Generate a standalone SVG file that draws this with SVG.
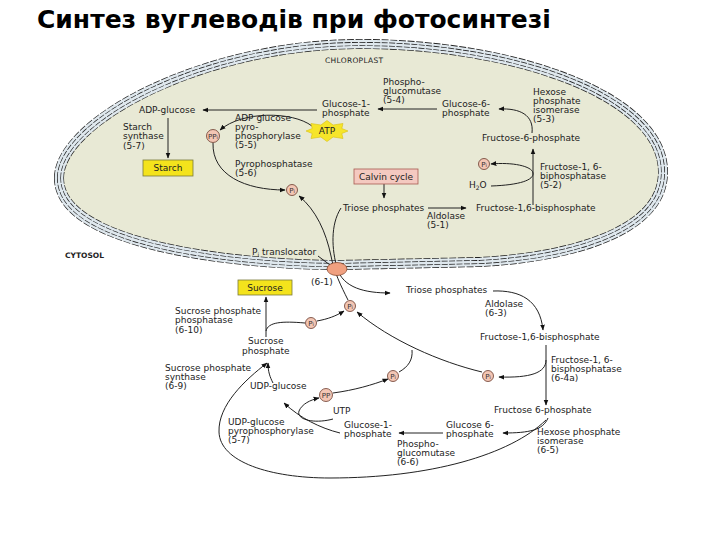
<svg xmlns="http://www.w3.org/2000/svg" width="720" height="540" viewBox="0 0 720 540">
<style>
text{font-family:"DejaVu Sans","Liberation Sans",sans-serif;font-size:9px;fill:#222}
.title{font-family:"DejaVu Sans","Liberation Sans",sans-serif;font-size:25px;font-weight:bold;fill:#000}
.small{font-size:7.5px}
.c{stroke:#222;stroke-width:1;fill:none}
.ca{stroke:#222;stroke-width:1;fill:none;marker-end:url(#ah)}
.pi{fill:#f3c6b4;stroke:#6a3a2c;stroke-width:0.8}
.pit{font-size:7px;text-anchor:middle;fill:#333}
.yel{fill:#f4e31c;stroke:#7a7a3a;stroke-width:0.8}
.mem-d1{fill:none;stroke:#222;stroke-width:10;stroke-dasharray:7 1.6}
.mem-l1{fill:none;stroke:#dfe8ee;stroke-width:8.6}
.mem-d2{fill:none;stroke:#222;stroke-width:4;stroke-dasharray:6 1.4}
.mem-l2{fill:none;stroke:#dfe8ee;stroke-width:2.6}
</style>
<defs>
<marker id="ah" viewBox="0 0 10 10" refX="9" refY="5" markerWidth="6" markerHeight="6" orient="auto" markerUnits="userSpaceOnUse"><path d="M0,1 L10,5 L0,9 z" fill="#111"/></marker>
<path id="chl" d="M 59,178 C 59,122 202,44 360,44 C 518,44 663,97 663,172 C 663,236 558,258 480,262 L 340,265 C 242,265 59,247 59,178 Z"/>
</defs>
<rect width="720" height="540" fill="#fff"/>
<text class="title" x="37" y="28">Синтез вуглеводів при фотосинтезі</text>

<g id="chloroplast">
<use href="#chl" fill="#e8e9d5"/>
<use href="#chl" class="mem-d1"/>
<use href="#chl" class="mem-l1"/>
<use href="#chl" class="mem-d2"/>
<use href="#chl" class="mem-l2"/>
<text class="small" x="325" y="63" letter-spacing="0.3">CHLOROPLAST</text>
</g>
<text id="cytosol" class="small" x="65" y="258" font-weight="bold">CYTOSOL</text>

<g id="connectors">
<path class="ca" d="M 317,110 L 203,110"/>
<path class="ca" d="M 168,118 L 168,158"/>
<path class="ca" d="M 312,126 C 292,111 242,111 220,130"/>
<path class="ca" d="M 213,143 C 212,175 245,190 285,190"/>
<path class="ca" d="M 437,109 L 378,109"/>
<path class="ca" d="M 532,133 C 534,115 520,108 499,109"/>
<path class="ca" d="M 533,205 L 533,149"/>
<path class="ca" d="M 491,186 C 520,185 534,180 533,173 C 532,166 512,162 491,164"/>
<path class="ca" d="M 384,184 L 384,198"/>
<path class="ca" d="M 428,208 L 466,208"/>
<path class="ca" d="M 341,208 C 330,225 332,250 337,268 C 343,288 365,293 390,293"/>
<path class="ca" d="M 348,300 C 341,286 334,272 331,256 C 326,232 316,210 299,196"/>
<path class="c" d="M 318,256 L 330,265"/>
<path class="ca" d="M 493,291 C 520,290 540,300 543,330"/>
<path class="ca" d="M 546,345 L 546,405"/>
<path class="ca" d="M 546,360 C 546,373 530,378 499,377"/>
<path class="ca" d="M 482,372 C 440,362 390,340 357,312"/>
<path class="c" d="M 399,372 C 408,367 413,360 412,350"/>
<path class="ca" d="M 548,418 C 543,430 530,433 503,433"/>
<path class="ca" d="M 546,420 C 510,455 430,478 330,478 C 270,478 220,462 219,432 C 218,405 245,380 267,363"/>
<path class="ca" d="M 266,337 L 266,297"/>
<path class="c" d="M 266,331 C 268,322 282,321 305,323"/>
<path class="ca" d="M 317,321 C 328,319 336,316 344,311"/>
<path class="ca" d="M 273,383 C 270,377 268,372 268,363"/>
<path class="ca" d="M 333,393 C 355,390 372,385 388,379"/>
<path class="ca" d="M 333,419 C 315,424 296,420 299,411 C 302,404 310,400 319,398"/>
<path class="ca" d="M 340,433 C 320,428 300,418 284,403"/>
<path class="ca" d="M 443,433 L 399,433"/>
</g>

<g id="adp-glucose"><text x="139" y="113">ADP-glucose</text></g>
<g id="starch-synthase"><text x="123" y="130">Starch</text><text x="123" y="139">synthase</text><text x="123" y="149">(5-7)</text></g>
<g id="starch"><rect class="yel" x="143" y="160" width="50" height="16"/><text x="168" y="171" text-anchor="middle">Starch</text></g>
<g id="adp-ppase"><text x="235" y="121">ADP glucose</text><text x="235" y="130">pyro-</text><text x="235" y="139">phosphorylase</text><text x="235" y="148">(5-5)</text></g>
<g id="ppi-chl"><circle class="pi" cx="213" cy="136" r="6.5"/><text class="pit" x="213" y="138.5" font-size="6.5">PP<tspan font-size="5">i</tspan></text></g>
<g id="atp"><polygon points="348,131 341.8,133.5 343,138.5 333.1,137 327,141.5 320.9,137 311,138.5 312.2,133.5 306,131 312.2,128.5 311,123.5 320.9,125 327,120.5 333.1,125 343,123.5 341.8,128.5" fill="#f6e52a" stroke="#d8c010" stroke-width="0.6"/><text x="327" y="134" text-anchor="middle" font-size="8">ATP</text></g>
<g id="pyrophosphatase"><text x="235" y="167">Pyrophosphatase</text><text x="235" y="176">(5-6)</text></g>
<g id="pi-chl-1"><circle class="pi" cx="292" cy="190" r="5.5"/><text class="pit" x="292" y="192.5">P<tspan font-size="5">i</tspan></text></g>
<g id="glc1p-chl"><text x="322" y="107">Glucose-1-</text><text x="322" y="116">phosphate</text></g>
<g id="pgm-chl"><text x="383" y="85">Phospho-</text><text x="383" y="94">glucomutase</text><text x="383" y="103">(5-4)</text></g>
<g id="glc6p-chl"><text x="442" y="107">Glucose-6-</text><text x="442" y="116">phosphate</text></g>
<g id="hpi-chl"><text x="533" y="95">Hexose</text><text x="533" y="104">phosphate</text><text x="533" y="113">isomerase</text><text x="533" y="122">(5-3)</text></g>
<g id="f6p-chl"><text x="482" y="141">Fructose-6-phosphate</text></g>
<g id="fbpase-chl"><text x="540" y="170">Fructose-1, 6-</text><text x="540" y="179">biphosphatase</text><text x="540" y="188">(5-2)</text></g>
<g id="pi-chl-2"><circle class="pi" cx="484" cy="164" r="5.5"/><text class="pit" x="484" y="166.5">P<tspan font-size="5">i</tspan></text></g>
<g id="h2o"><text x="469" y="188">H<tspan font-size="6" dy="2">2</tspan><tspan dy="-2">O</tspan></text></g>
<g id="calvin"><rect x="354" y="169" width="64" height="15" fill="#f4c9c0" stroke="#a85a50" stroke-width="0.8"/><text x="386" y="179.5" text-anchor="middle" fill="#9a3a30" font-size="8.5">Calvin cycle</text></g>
<g id="triose-chl"><text x="343" y="211">Triose phosphates</text></g>
<g id="aldolase-chl"><text x="427" y="219">Aldolase</text><text x="427" y="228">(5-1)</text></g>
<g id="fbp-chl"><text x="476" y="211">Fructose-1,6-bisphosphate</text></g>

<g id="translocator"><ellipse cx="337" cy="269" rx="10" ry="6.5" fill="#f0a080" stroke="#8a4a30" stroke-width="0.8"/><text x="252" y="255">P<tspan font-size="6" dy="2">i</tspan><tspan dy="-2"> translocator</tspan></text><text x="311" y="285">(6-1)</text></g>

<g id="sucrose"><rect class="yel" x="238" y="280" width="54" height="15"/><text x="265" y="290.5" text-anchor="middle">Sucrose</text></g>
<g id="pi-cyt-1"><circle class="pi" cx="350" cy="306" r="5.5"/><text class="pit" x="350" y="308.5">P<tspan font-size="5">i</tspan></text></g>
<g id="triose-cyt"><text x="406" y="293">Triose phosphates</text></g>
<g id="aldolase-cyt"><text x="485" y="307">Aldolase</text><text x="485" y="316">(6-3)</text></g>
<g id="fbp-cyt"><text x="480" y="340">Fructose-1,6-bisphosphate</text></g>
<g id="fbpase-cyt"><text x="551" y="363">Fructose-1, 6-</text><text x="551" y="372">bisphosphatase</text><text x="551" y="381">(6-4a)</text></g>
<g id="pi-cyt-2"><circle class="pi" cx="488" cy="376" r="5.5"/><text class="pit" x="488" y="378.5">P<tspan font-size="5">i</tspan></text></g>
<g id="pi-cyt-3"><circle class="pi" cx="393" cy="376" r="5.5"/><text class="pit" x="393" y="378.5">P<tspan font-size="5">i</tspan></text></g>
<g id="f6p-cyt"><text x="494" y="413">Fructose 6-phosphate</text></g>
<g id="hpi-cyt"><text x="537" y="435">Hexose phosphate</text><text x="537" y="444">isomerase</text><text x="537" y="453">(6-5)</text></g>
<g id="glc6p-cyt"><text x="446" y="428">Glucose 6-</text><text x="446" y="437">phosphate</text></g>
<g id="pgm-cyt"><text x="397" y="447">Phospho-</text><text x="397" y="456">glucomutase</text><text x="397" y="465">(6-6)</text></g>
<g id="glc1p-cyt"><text x="344" y="428">Glucose-1-</text><text x="344" y="437">phosphate</text></g>
<g id="ugpase"><text x="228" y="425">UDP-glucose</text><text x="228" y="434">pyrophosphorylase</text><text x="228" y="443">(5-7)</text></g>
<g id="utp"><text x="333" y="414">UTP</text></g>
<g id="pp-cyt"><circle class="pi" cx="326" cy="395" r="6.5"/><text class="pit" x="326" y="397.5" font-size="6.5">PP</text></g>
<g id="udp-glucose"><text x="250" y="389">UDP-glucose</text></g>
<g id="sps"><text x="165" y="371">Sucrose phosphate</text><text x="165" y="380">synthase</text><text x="165" y="389">(6-9)</text></g>
<g id="sucrose-p"><text x="248" y="344">Sucrose</text><text x="242" y="354">phosphate</text></g>
<g id="spp"><text x="175" y="314">Sucrose phosphate</text><text x="175" y="323">phosphatase</text><text x="175" y="333">(6-10)</text></g>
<g id="pi-cyt-4"><circle class="pi" cx="311" cy="323" r="5.5"/><text class="pit" x="311" y="325.5">P<tspan font-size="5">i</tspan></text></g>
</svg>
